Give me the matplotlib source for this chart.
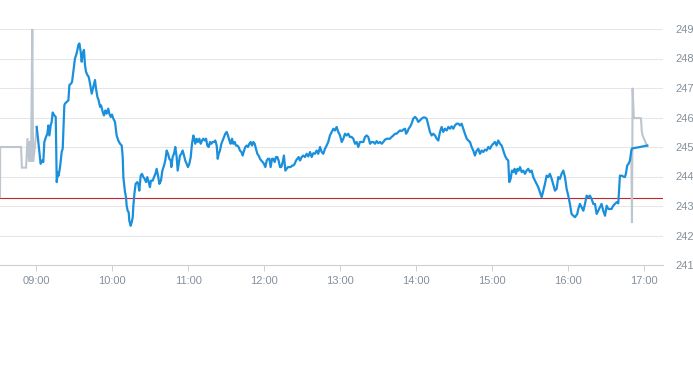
import matplotlib
matplotlib.use("Agg")
import matplotlib.pyplot as plt

plt.rcParams['font.family'] = ['Liberation Sans', 'DejaVu Sans']

# minutes after 09:00 and price
pre_min = [-28.6, -28.5, -12.0, -11.3, -8.0, -6.9, -5.7, -4.9, -4.1, -3.1, -2.5, -1.3, 0.4]
pre_px = [243.3, 245.0, 245.0, 244.3, 244.3, 245.3, 244.5, 245.2, 244.5, 249.0, 244.5, 244.9, 245.68]

reg_min = [
    0.4, 2.5, 3.5, 4.6, 5.6, 6.4, 7.7, 8.8, 9.6, 10.4, 11.4, 12.2, 13.0, 14.3, 15.4, 16.2, 17.0, 17.7, 18.8, 20.1,
    20.9, 22.2, 22.7, 24.1, 25.4, 26.2, 27.5, 28.3, 29.3, 30.6, 31.9, 33.3, 34.1, 35.1, 35.9, 36.7, 37.7, 38.5, 39.3, 40.4,
    41.4, 42.5, 43.8, 45.1, 46.4, 47.2, 48.3, 49.3, 50.4, 51.2, 52.5, 53.5, 54.6, 55.6, 56.9, 57.7, 58.8, 59.8, 60.9, 62.2,
    63.5, 64.8, 66.2, 67.5, 68.3, 68.8, 70.1, 70.9, 71.4, 72.2, 73.0, 73.5, 74.6, 75.4, 76.2, 76.7, 77.5, 78.5, 79.8, 80.6,
    81.4, 82.5, 83.5, 84.6, 85.6, 86.7, 87.7, 88.8, 89.8, 90.6, 92.0, 93.0, 94.1, 95.1, 96.4, 97.2, 98.5, 99.6, 100.9, 101.9,
    103.0, 104.1, 105.1, 106.2, 106.7, 107.7, 108.8, 109.8, 110.9, 111.7, 112.7, 113.5, 114.6, 115.6, 116.7, 117.7, 118.8, 119.8, 120.9, 122.0,
    123.0, 124.1, 124.8, 125.6, 126.7, 127.7, 128.8, 129.9, 130.9, 131.9, 133.0, 134.1, 135.1, 136.2, 137.2, 138.3, 139.3, 140.4, 141.4, 142.5,
    143.3, 144.1, 145.1, 146.2, 147.2, 148.3, 149.3, 150.4, 151.4, 152.5, 153.5, 154.6, 155.6, 156.7, 157.7, 158.8, 159.8, 160.9, 162.0, 163.0,
    164.1, 165.1, 166.2, 167.2, 168.3, 169.3, 170.4, 171.4, 172.5, 173.5, 174.6, 175.6, 176.7, 177.7, 178.8, 179.8, 180.9, 182.0, 183.0, 184.1,
    185.1, 186.2, 187.2, 188.3, 189.3, 190.4, 191.4, 192.5, 193.5, 194.6, 195.6, 196.7, 197.7, 198.8, 199.8, 200.9, 202.0, 203.0, 204.1, 205.1,
    206.2, 207.2, 208.3, 209.6, 210.9, 212.2, 213.5, 214.8, 216.2, 217.5, 218.8, 220.1, 221.4, 222.7, 224.1, 225.4, 226.7, 228.0, 229.3, 230.6,
    231.9, 233.3, 234.6, 235.9, 237.2, 238.5, 239.9, 241.2, 242.5, 243.8, 245.1, 246.4, 247.7, 249.1, 250.4, 251.7, 253.0, 254.3, 255.6, 257.0,
    258.3, 259.6, 260.9, 262.2, 263.6, 264.9, 266.2, 267.5, 268.8, 270.1, 271.5, 272.8, 274.1, 275.4, 276.7, 278.0, 279.3, 280.6, 282.0, 283.3,
    284.6, 285.9, 287.2, 288.5, 289.9, 291.2, 292.0, 293.0, 294.1, 295.1, 296.4, 297.7, 299.1, 300.4, 301.7, 303.0, 304.3, 305.6, 307.0, 308.3,
    309.6, 310.9, 312.2, 313.5, 314.9, 316.2, 317.5, 318.8, 320.1, 321.4, 322.7, 324.1, 325.4, 326.7, 328.0, 329.3, 330.6, 332.0, 333.3, 334.6,
    335.9, 337.2, 338.5, 339.9, 341.2, 342.5, 343.8, 345.1, 346.4, 347.8, 349.1, 350.4, 351.7, 353.0, 354.3, 355.6, 357.0, 358.3, 359.6, 360.9,
    362.2, 363.5, 364.8, 366.2, 367.5, 368.8, 370.1, 371.4, 372.7, 373.5, 374.6, 375.6, 376.7, 377.7, 378.8, 379.9, 380.9, 382.0, 383.3, 384.6,
    385.9, 387.2, 388.5, 389.9, 391.2, 392.5, 393.8, 395.1, 396.4, 397.7, 399.1, 400.4, 401.7, 403.0, 404.3, 405.6, 407.0, 408.3, 409.6, 410.9,
    412.2, 413.5, 414.8, 416.2, 417.5, 418.8, 420.1, 421.4, 422.7, 424.1, 425.4, 426.2, 427.2, 428.0, 429.3, 430.6, 432.0, 433.3, 434.6, 435.9,
    437.2, 438.5, 439.9, 441.2, 442.5, 443.8, 445.1, 446.4, 447.7, 449.1, 450.4, 451.7, 453.0, 454.3, 455.6, 457.0, 458.3, 459.6, 460.9, 462.2,
    463.5, 464.8, 465.6, 466.6, 467.7, 468.8, 469.9, 470.4, 476.7, 482.5,
]
reg_px = [
    245.68, 244.83, 244.43, 244.54, 244.49, 245.17, 245.34, 245.45, 245.73, 245.39, 245.73, 245.85, 246.17, 246.07, 246.02, 243.81, 244.15, 244.03, 244.32, 244.83,
    244.94, 246.41, 246.47, 246.53, 246.58, 247.10, 247.15, 247.21, 247.55, 248.00, 248.17, 248.46, 248.51, 248.23, 247.89, 248.17, 248.29, 247.78, 247.55, 247.44,
    247.38, 247.15, 246.81, 247.04, 247.27, 246.98, 246.70, 246.58, 246.36, 246.41, 246.19, 246.07, 246.24, 246.13, 246.30, 246.13, 246.02, 246.10, 245.96, 245.85,
    245.39, 245.22, 245.11, 245.05, 244.66, 243.98, 243.47, 243.30, 243.01, 242.84, 242.79, 242.50, 242.33, 242.45, 242.62, 243.01, 243.41, 243.75, 243.81, 243.75,
    243.52, 244.03, 244.09, 243.98, 243.92, 243.81, 243.98, 243.81, 243.64, 243.86, 243.86, 243.98, 244.09, 244.26, 243.98, 243.75, 243.86, 244.20, 244.37, 244.54,
    244.88, 244.77, 244.60, 244.54, 244.32, 244.66, 244.77, 245.00, 244.66, 244.20, 244.49, 244.71, 244.77, 244.88, 244.71, 244.54, 244.43, 244.32, 244.43, 244.66,
    245.11, 245.39, 245.28, 245.11, 245.28, 245.17, 245.28, 245.11, 245.22, 245.28, 245.22, 245.28, 245.05, 245.00, 245.17, 245.11, 245.17, 245.17, 245.22, 245.05,
    244.60, 244.77, 244.88, 245.11, 245.22, 245.34, 245.45, 245.51, 245.39, 245.22, 245.11, 245.28, 245.11, 245.17, 245.05, 245.05, 245.00, 244.88, 244.83, 244.71,
    244.88, 245.00, 245.05, 245.00, 245.11, 245.17, 245.05, 245.17, 245.11, 244.94, 244.77, 244.71, 244.60, 244.54, 244.49, 244.43, 244.32, 244.54, 244.60, 244.60,
    244.32, 244.60, 244.60, 244.49, 244.66, 244.66, 244.54, 244.32, 244.32, 244.49, 244.71, 244.20, 244.26, 244.32, 244.32, 244.32, 244.37, 244.37, 244.43, 244.54,
    244.60, 244.66, 244.54, 244.66, 244.71, 244.66, 244.77, 244.68, 244.83, 244.66, 244.79, 244.77, 244.88, 244.77, 245.00, 244.83, 244.77, 244.94, 245.05, 245.17,
    245.39, 245.51, 245.62, 245.56, 245.68, 245.51, 245.39, 245.17, 245.28, 245.45, 245.39, 245.45, 245.34, 245.34, 245.28, 245.11, 245.17, 245.00, 245.17, 245.17,
    245.17, 245.34, 245.39, 245.34, 245.11, 245.17, 245.17, 245.11, 245.20, 245.13, 245.17, 245.11, 245.17, 245.25, 245.28, 245.28, 245.28, 245.34, 245.39, 245.45,
    245.45, 245.51, 245.56, 245.54, 245.59, 245.62, 245.45, 245.51, 245.62, 245.68, 245.79, 245.96, 246.02, 245.96, 245.85, 245.90, 245.96, 246.00, 246.00, 245.96,
    245.73, 245.51, 245.39, 245.45, 245.39, 245.28, 245.22, 245.51, 245.68, 245.51, 245.62, 245.56, 245.68, 245.62, 245.70, 245.62, 245.73, 245.79, 245.79, 245.73,
    245.79, 245.62, 245.45, 245.28, 245.22, 245.17, 245.00, 244.88, 244.71, 244.88, 244.94, 244.77, 244.88, 244.83, 244.91, 244.88, 245.00, 244.94, 245.05, 245.11,
    245.17, 245.05, 245.22, 245.11, 245.05, 244.88, 244.71, 244.60, 244.54, 243.81, 243.92, 244.20, 244.15, 244.26, 244.09, 244.26, 244.20, 244.32, 244.15, 244.20,
    244.09, 244.20, 244.26, 244.15, 244.20, 243.98, 243.86, 243.75, 243.64, 243.47, 243.30, 243.52, 243.75, 244.03, 243.98, 244.09, 243.92, 243.72, 243.52, 243.58,
    243.98, 243.92, 244.09, 244.20, 243.98, 243.58, 243.35, 243.07, 242.73, 242.67, 242.62, 242.67, 242.73, 242.90, 243.07, 242.96, 242.84, 243.07, 243.35, 243.30,
    243.35, 243.24, 243.07, 243.07, 242.73, 242.84, 242.96, 243.07, 242.84, 242.67, 243.01, 242.90, 242.90, 242.90, 243.01, 243.07, 243.13, 243.09, 244.03, 244.03,
    244.00, 243.98, 244.09, 244.37, 244.43, 244.54, 244.88, 244.95, 245.00, 245.05,
]

post_min = [469.9, 470.4, 470.9, 471.9, 477.5, 478.1, 478.8, 482.5]
post_px = [244.88, 242.45, 246.98, 245.98, 245.98, 245.55, 245.39, 245.02]

prev_close = 243.28
hour_labels = ["09:00", "10:00", "11:00", "12:00", "13:00", "14:00", "15:00", "16:00", "17:00"]
y_ticks = [241, 242, 243, 244, 245, 246, 247, 248, 249]

W, H = 693, 365
fig = plt.figure(figsize=(W / 100, H / 100), dpi=100)
ax = fig.add_axes([0, 1 - 265 / H, 663 / W, (265 - 29) / H])

label_col = "#86909a"
ax.set_xlim(-28.6, 494.9)
ax.set_ylim(241, 249)

for v in y_ticks[1:]:
    ax.axhline(v, color="#e6e6e6", lw=0.75, zorder=0)
ax.axhline(prev_close, color="#c0282d", lw=0.8, zorder=1)

ax.plot(pre_min, pre_px, color="#bdc6ce", lw=1.5, zorder=2, solid_joinstyle="miter")
ax.plot(post_min, post_px, color="#bdc6ce", lw=1.5, zorder=2)
ax.plot(reg_min, reg_px, color="#1a90dc", lw=1.6, zorder=3)

for s in ["top", "left", "right"]:
    ax.spines[s].set_visible(False)
ax.spines["bottom"].set_color("#ccd0d4")
ax.spines["bottom"].set_linewidth(0.8)

ax.set_xticks([60 * i for i in range(len(hour_labels))])
ax.set_xticklabels(hour_labels)
ax.tick_params(axis="x", length=4, width=0.7, color="#ccd0d4", pad=4,
               labelsize=8, labelcolor=label_col)

ax.yaxis.tick_right()
ax.set_yticks(y_ticks)
ax.set_yticklabels([str(v) for v in y_ticks])
ax.tick_params(axis="y", length=0, pad=9, labelsize=8, labelcolor=label_col)

fig.savefig("out.png", dpi=100)
